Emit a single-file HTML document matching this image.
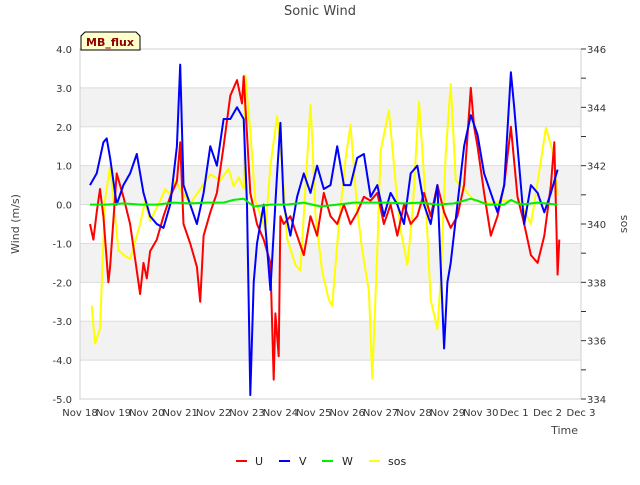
<!DOCTYPE html>
<html><head><meta charset="utf-8"><style>
body{margin:0;background:#fff;}
svg text{font-family:"DejaVu Sans","Liberation Sans",sans-serif;}
</style></head><body>
<svg id="chart" width="640" height="480" viewBox="0 0 640 480">
<g id="bg"></g><g id="axes"></g><g id="series"></g>
</svg>
<script>
const dayLabels=["Nov 18","Nov 19","Nov 20","Nov 21","Nov 22","Nov 23","Nov 24","Nov 25","Nov 26","Nov 27","Nov 28","Nov 29","Nov 30","Dec 1","Dec 2","Dec 3"];
const leftTicks=[4,3,2,1,0,-1,-2,-3,-4,-5];
const rightTicks=[334,336,338,340,342,344,346];
const uT=[0.3,0.4,0.5,0.6,0.7,0.85,0.9,1.0,1.1,1.3,1.5,1.7,1.8,1.9,2.0,2.1,2.3,2.5,2.7,2.9,3.0,3.1,3.3,3.5,3.6,3.7,3.9,4.1,4.3,4.5,4.7,4.85,4.9,5.1,5.3,5.5,5.7,5.8,5.85,5.95,6.0,6.1,6.3,6.5,6.7,6.9,7.1,7.3,7.5,7.7,7.9,8.1,8.3,8.5,8.7,8.9,9.1,9.3,9.5,9.7,9.9,10.1,10.3,10.5,10.7,10.9,11.1,11.3,11.5,11.7,11.8,11.9,12.1,12.3,12.5,12.7,12.9,13.1,13.3,13.5,13.7,13.9,14.1,14.2,14.3,14.35];
const uV=[-0.5,-0.9,-0.2,0.4,-0.3,-2.0,-1.6,-0.4,0.8,0.2,-0.5,-1.7,-2.3,-1.5,-1.9,-1.2,-0.9,-0.3,0.2,0.6,1.6,-0.5,-1.0,-1.6,-2.5,-0.8,-0.2,0.3,1.5,2.8,3.2,2.6,3.3,0.3,-0.5,-0.9,-1.5,-4.5,-2.8,-3.9,-0.3,-0.5,-0.3,-0.8,-1.3,-0.3,-0.8,0.3,-0.3,-0.5,0.0,-0.5,-0.2,0.2,0.1,0.3,-0.5,0.0,-0.8,0.0,-0.5,-0.3,0.3,-0.3,0.5,-0.2,-0.6,-0.3,0.5,3.0,2.0,1.5,0.3,-0.8,-0.3,0.5,2.0,0.2,-0.5,-1.3,-1.5,-0.8,0.5,1.6,-1.8,-0.9];
const vT=[0.3,0.5,0.7,0.8,0.9,1.1,1.3,1.5,1.7,1.9,2.1,2.3,2.5,2.7,2.9,3.0,3.1,3.3,3.5,3.7,3.9,4.1,4.3,4.5,4.7,4.9,5.0,5.1,5.2,5.3,5.5,5.7,5.9,6.0,6.1,6.3,6.5,6.7,6.9,7.1,7.3,7.5,7.7,7.9,8.1,8.3,8.5,8.7,8.9,9.1,9.3,9.5,9.7,9.9,10.1,10.3,10.5,10.7,10.9,11.0,11.1,11.3,11.5,11.7,11.9,12.1,12.3,12.5,12.7,12.9,13.0,13.1,13.3,13.5,13.7,13.9,14.1,14.3];
const vV=[0.5,0.8,1.6,1.7,1.2,0.0,0.5,0.8,1.3,0.3,-0.3,-0.5,-0.6,0.0,1.5,3.6,0.5,0.0,-0.5,0.3,1.5,1.0,2.2,2.2,2.5,2.2,0.0,-4.9,-2.0,-1.0,0.0,-2.2,0.8,2.1,0.0,-0.8,0.2,0.8,0.3,1.0,0.4,0.5,1.5,0.5,0.5,1.2,1.3,0.2,0.5,-0.3,0.3,0.0,-0.5,0.8,1.0,0.0,-0.5,0.5,-3.7,-2.0,-1.5,0.0,1.5,2.3,1.8,0.8,0.3,-0.2,0.5,3.4,2.5,1.5,-0.5,0.5,0.3,-0.2,0.3,0.9];
const wT=[0.3,0.8,1.3,1.8,2.3,2.8,3.3,3.8,4.3,4.6,4.9,5.2,5.7,6.2,6.7,7.2,7.7,8.2,8.7,9.2,9.7,10.2,10.7,11.2,11.7,11.9,12.2,12.7,12.9,13.2,13.7,14.3];
const wV=[0.0,0.0,0.03,0.0,0.0,0.05,0.03,0.05,0.05,0.12,0.15,-0.05,0.0,0.0,0.05,-0.05,0.0,0.05,0.05,0.05,0.03,0.05,0.0,0.03,0.15,0.1,0.0,0.0,0.12,0.0,0.05,0.0];
const sT=[0.35,0.45,0.6,0.75,0.9,1.15,1.35,1.5,1.8,1.95,2.1,2.4,2.55,2.7,2.85,3.0,3.3,3.6,3.9,4.2,4.45,4.6,4.75,4.9,4.95,5.1,5.25,5.4,5.55,5.7,5.9,6.05,6.2,6.45,6.6,6.9,6.95,7.05,7.25,7.45,7.55,7.75,7.95,8.1,8.3,8.45,8.65,8.75,8.9,9.0,9.25,9.5,9.6,9.8,9.95,10.15,10.35,10.5,10.7,10.8,10.95,11.1,11.25,11.5,11.8,12.3,12.6,12.9,13.2,13.5,13.75,13.95,14.15,14.3];
const sV=[337.2,335.9,336.4,340.8,342.0,339.1,338.9,338.8,340.0,340.8,340.1,340.8,341.2,341.0,341.5,341.2,340.7,341.2,341.7,341.5,341.9,341.3,341.6,341.2,345.1,343.2,340.8,340.3,339.8,342.0,343.7,342.0,339.5,338.6,338.4,344.1,343.0,340.3,338.4,337.4,337.2,340.0,342.2,343.4,340.5,339.1,337.7,334.7,339.1,342.5,343.9,340.8,339.8,338.6,340.3,344.2,340.8,337.4,336.4,338.1,342.4,344.8,341.5,341.2,340.8,340.7,340.8,340.8,340.7,340.0,341.8,343.3,342.5,341.0];

const X0=80,X1=581,Y0=49,Y1=399;
const xS=t=>X0+t*(X1-X0)/15;
const yL=v=>Y0+(4-v)*(Y1-Y0)/9;
const yR=v=>Y0+(346-v)*(Y1-Y0)/12;
const NS="http://www.w3.org/2000/svg";
function mk(tag,attrs,parent,txt){const e=document.createElementNS(NS,tag);for(const k in attrs)e.setAttribute(k,attrs[k]);if(txt!==undefined)e.textContent=txt;parent.appendChild(e);return e;}
const bg=document.getElementById('bg'),ax=document.getElementById('axes'),se=document.getElementById('series');
for(let i=0;i<9;i++){
  if(i%2===1){const r=mk('rect',{x:X0,y:yL(4-i),width:X1-X0,height:yL(3-i)-yL(4-i),fill:'#f2f2f2'},bg);
  
  }
}
leftTicks.forEach(v=>{
  const l=mk('line',{x1:X0,x2:X1,y1:yL(v),y2:yL(v),stroke:'#dcdcdc','stroke-width':1},bg);
  
  
  const t=mk('text',{x:X0-8,y:yL(v)+4,'text-anchor':'end','font-size':10,fill:'#333'},ax,v.toFixed(1));
  
  
});
mk('rect',{x:X0,y:Y0,width:X1-X0,height:Y1-Y0,fill:'none',stroke:'#d0d0d0'},ax);
rightTicks.forEach(v=>{
  mk('line',{x1:X1,x2:X1+5,y1:yR(v),y2:yR(v),stroke:'#333'},ax);
  const t=mk('text',{x:X1+6,y:yR(v)+4,'font-size':10,fill:'#333'},ax,String(v));
  
  
  if(v<346) mk('line',{x1:X1,x2:X1+5,y1:yR(v+1),y2:yR(v+1),stroke:'#333'},ax);
});
dayLabels.forEach((d,i)=>{
  const t=mk('text',{x:xS(i),y:416,'text-anchor':'middle','font-size':10,fill:'#333'},ax,d);
  
  
});
function line(T,V,f,color,name){
  const p=mk('polyline',{points:T.map((t,i)=>xS(t).toFixed(1)+','+f(V[i]).toFixed(1)).join(' '),fill:'none',stroke:color,'stroke-width':2,'stroke-linejoin':'round'},se);
  
  
}
line(sT,sV,yR,'#ffff00','sos-line');
line(uT,uV,yL,'#ff0000','u-line');
line(vT,vV,yL,'#0000ff','v-line');
line(wT,wV,yL,'#00ee00','w-line');
</script>
<svg style="position:absolute;left:0;top:0" width="640" height="480">
<text x="320" y="15" text-anchor="middle" font-size="13" fill="#444" font-family="DejaVu Sans,sans-serif">Sonic Wind</text>
<text x="19" y="224" text-anchor="middle" font-size="11" fill="#444" font-family="DejaVu Sans,sans-serif" transform="rotate(-90 19 224)">Wind (m/s)</text>
<text x="627" y="224" text-anchor="middle" font-size="11" fill="#444" font-family="DejaVu Sans,sans-serif" transform="rotate(-90 627 224)">sos</text>
<text x="578" y="434" text-anchor="end" font-size="11" fill="#444" font-family="DejaVu Sans,sans-serif">Time</text>
<g>
<path d="M81,50 L81,36 L85,32 L136,32 L140,36 L140,50 Z" fill="#ffffcc" stroke="#000"/>
<text x="110" y="46" text-anchor="middle" font-size="11" font-weight="bold" fill="#8b0000" font-family="DejaVu Sans,sans-serif">MB_flux</text>
</g>
<g font-size="11" fill="#222" font-family="DejaVu Sans,sans-serif">
<g><rect x="236" y="460" width="11" height="2" fill="#ff0000"/><text x="255" y="465">U</text></g>
<g><rect x="279" y="460" width="11" height="2" fill="#0000ff"/><text x="299" y="465">V</text></g>
<g><rect x="322" y="460" width="11" height="2" fill="#00ee00"/><text x="342" y="465">W</text></g>
<g><rect x="369" y="460" width="11" height="2" fill="#ffff00"/><text x="388" y="465">sos</text></g>
</g>
</svg>
</body></html>
